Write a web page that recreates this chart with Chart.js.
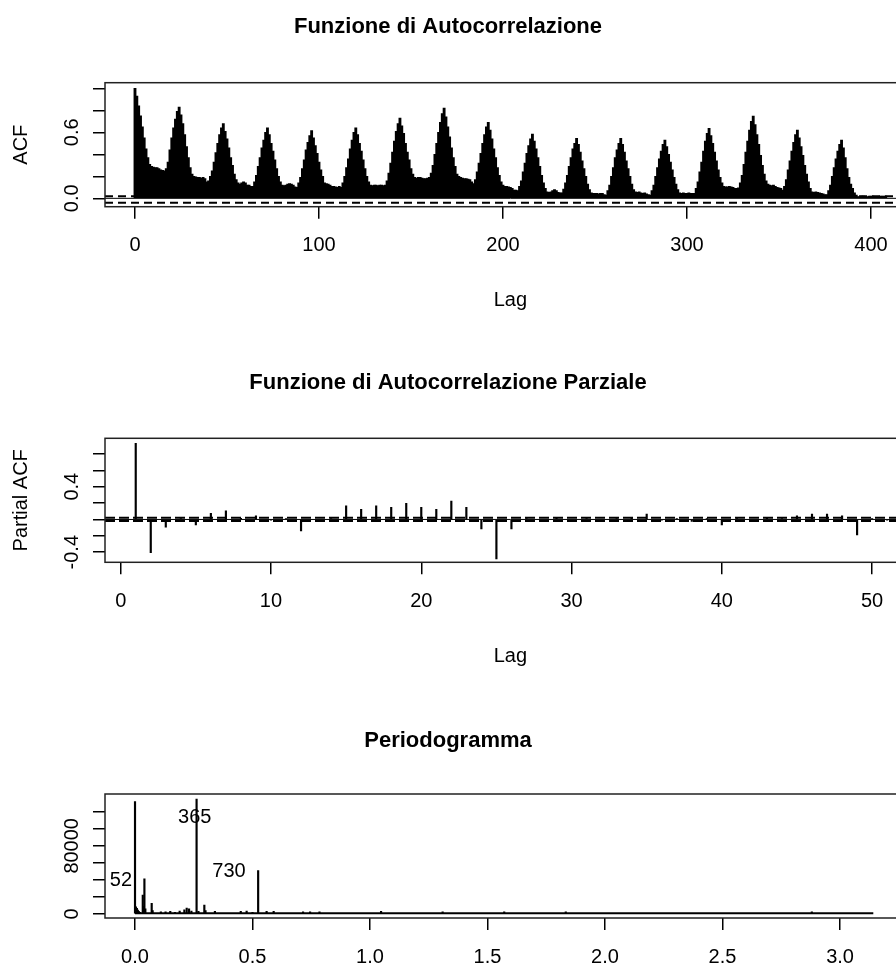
<!DOCTYPE html>
<html lang="it">
<head>
<meta charset="UTF-8">
<title>Funzione di Autocorrelazione</title>
<script src="https://cdn.jsdelivr.net/npm/chart.js"></script>
<style>
  html, body { margin: 0; padding: 0; background: #fff; }
  #page { position: relative; width: 896px; height: 972px; overflow: hidden; }
  canvas { position: absolute; left: 0; }
</style>
</head>
<body>
<div id="page">
  <canvas id="acfChart" width="940" height="320" style="top:0px"></canvas>
  <canvas id="pacfChart" width="940" height="350" style="top:320px"></canvas>
  <canvas id="specChart" width="940" height="302" style="top:670px"></canvas>
</div>
<script>
// ---- ACF, lag 0..408 (one row = one 24-lag cycle)
const ACF_VALUES = [
  1.00, 0.93, 0.84, 0.75, 0.65, 0.55, 0.45, 0.37, 0.31, 0.29, 0.285, 0.28, 0.28, 0.27, 0.26, 0.255, 0.25, 0.27, 0.33, 0.44, 0.55, 0.64, 0.72, 0.79,
  0.83, 0.76, 0.68, 0.58, 0.47, 0.37, 0.28, 0.22, 0.20, 0.195, 0.19, 0.19, 0.185, 0.19, 0.18, 0.15, 0.16, 0.20, 0.25, 0.33, 0.415, 0.50, 0.58, 0.64,
  0.68, 0.61, 0.54, 0.46, 0.37, 0.30, 0.22, 0.17, 0.14, 0.13, 0.14, 0.15, 0.14, 0.12, 0.12, 0.11, 0.11, 0.15, 0.21, 0.29, 0.37, 0.46, 0.53, 0.60,
  0.64, 0.58, 0.50, 0.43, 0.35, 0.27, 0.20, 0.15, 0.12, 0.115, 0.12, 0.13, 0.135, 0.13, 0.12, 0.105, 0.10, 0.14, 0.19, 0.27, 0.35, 0.44, 0.51, 0.57,
  0.615, 0.55, 0.48, 0.41, 0.33, 0.26, 0.20, 0.14, 0.135, 0.13, 0.12, 0.11, 0.11, 0.105, 0.10, 0.11, 0.10, 0.14, 0.20, 0.28, 0.36, 0.45, 0.53, 0.60,
  0.64, 0.58, 0.50, 0.43, 0.35, 0.27, 0.20, 0.15, 0.12, 0.115, 0.12, 0.12, 0.115, 0.12, 0.12, 0.115, 0.12, 0.16, 0.23, 0.32, 0.42, 0.52, 0.61, 0.68,
  0.73, 0.66, 0.59, 0.50, 0.42, 0.35, 0.27, 0.22, 0.19, 0.185, 0.19, 0.19, 0.185, 0.18, 0.18, 0.185, 0.19, 0.23, 0.30, 0.40, 0.50, 0.60, 0.69, 0.77,
  0.82, 0.74, 0.65, 0.56, 0.46, 0.37, 0.29, 0.22, 0.20, 0.19, 0.185, 0.18, 0.18, 0.175, 0.17, 0.15, 0.135, 0.17, 0.24, 0.32, 0.41, 0.50, 0.58, 0.65,
  0.69, 0.62, 0.54, 0.45, 0.37, 0.28, 0.21, 0.15, 0.12, 0.11, 0.11, 0.105, 0.10, 0.09, 0.075, 0.075, 0.07, 0.11, 0.16, 0.24, 0.32, 0.41, 0.48, 0.54,
  0.585, 0.52, 0.45, 0.37, 0.29, 0.21, 0.14, 0.09, 0.06, 0.055, 0.06, 0.07, 0.08, 0.07, 0.055, 0.05, 0.05, 0.085, 0.14, 0.21, 0.29, 0.37, 0.45, 0.50,
  0.545, 0.49, 0.42, 0.34, 0.27, 0.20, 0.13, 0.08, 0.05, 0.045, 0.045, 0.045, 0.04, 0.045, 0.045, 0.035, 0.03, 0.07, 0.12, 0.20, 0.28, 0.37, 0.44, 0.50,
  0.545, 0.49, 0.42, 0.34, 0.27, 0.20, 0.13, 0.08, 0.06, 0.055, 0.06, 0.05, 0.045, 0.05, 0.04, 0.035, 0.03, 0.07, 0.12, 0.20, 0.28, 0.36, 0.43, 0.49,
  0.53, 0.47, 0.40, 0.33, 0.26, 0.19, 0.13, 0.08, 0.05, 0.045, 0.05, 0.045, 0.045, 0.05, 0.045, 0.045, 0.045, 0.09, 0.15, 0.24, 0.33, 0.43, 0.52, 0.59,
  0.636, 0.57, 0.50, 0.42, 0.34, 0.26, 0.19, 0.14, 0.11, 0.105, 0.105, 0.11, 0.105, 0.10, 0.09, 0.09, 0.095, 0.14, 0.21, 0.31, 0.42, 0.52, 0.62, 0.70,
  0.748, 0.67, 0.58, 0.49, 0.39, 0.30, 0.22, 0.16, 0.13, 0.12, 0.115, 0.12, 0.11, 0.10, 0.095, 0.09, 0.075, 0.11, 0.17, 0.26, 0.34, 0.43, 0.51, 0.58,
  0.62, 0.55, 0.47, 0.39, 0.30, 0.22, 0.15, 0.09, 0.06, 0.055, 0.06, 0.055, 0.05, 0.045, 0.04, 0.035, 0.035, 0.07, 0.12, 0.20, 0.28, 0.36, 0.43, 0.49,
  0.53, 0.46, 0.37, 0.27, 0.19, 0.13, 0.09, 0.05, 0.03, 0.015, 0.015, 0.02, 0.02, 0.015, 0.015, 0.02, 0.02, 0.02, 0.015, 0.01, 0.015, 0.02, 0.02, 0.02, 0.02
];
const ACF_CI = [0.02, -0.04];
const ACF_X_TICKS = [0, 100, 200, 300, 400];
const ACF_X_LABELS = ['0', '100', '200', '300', '400'];
const ACF_Y_TICKS = [0, 0.2, 0.4, 0.6, 0.8, 1.0];
const ACF_Y_LABELS = ['0.0', '', '', '0.6', '', ''];

// ---- PACF, lag 1..52
const PACF_VALUES = [
  0.93, -0.405, -0.095, 0.01, -0.067, 0.076, 0.104, 0.015, 0.043, -0.01,
  0.01, -0.14, -0.01, 0.01, 0.168, 0.125, 0.168, 0.149, 0.198, 0.149,
  0.125, 0.226, 0.149, -0.116, -0.482, -0.116, 0.01, -0.01, 0.015, -0.01,
  0.01, -0.015, 0.01, 0.015, 0.067, -0.01, 0.01, -0.025, 0.01, -0.067,
  0.01, -0.01, 0.015, 0.01, 0.043, 0.067, 0.067, 0.043, -0.19, 0.01,
  -0.01, 0.01
];
const PACF_CI = [0.02, -0.02];
const PACF_X_TICKS = [0, 10, 20, 30, 40, 50];
const PACF_X_LABELS = ['0', '10', '20', '30', '40', '50'];
const PACF_Y_TICKS = [-0.4, -0.2, 0, 0.2, 0.4, 0.6, 0.8];
const PACF_Y_LABELS = ['-0.4', '', '', '', '0.4', '', ''];

// ---- Periodogramma
const SPEC_FREQ = [0.000, 0.004, 0.008, 0.012, 0.016, 0.021, 0.033, 0.037, 0.040, 0.044,
  0.071, 0.075, 0.110, 0.130, 0.150, 0.170, 0.190, 0.210, 0.220, 0.230,
  0.240, 0.262, 0.270, 0.295, 0.300, 0.340, 0.450, 0.475, 0.500, 0.524,
  0.560, 0.590, 0.715, 0.745, 0.785, 1.047, 1.309, 1.571, 1.833, 2.880];
const SPEC_POWER = [132000, 8500, 6500, 4500, 3000, 2000, 22300, 9000, 41200, 6000,
  12500, 4000, 2500, 2500, 3000, 2000, 3500, 5000, 7000, 6000,
  3500, 134900, 3000, 10600, 4000, 3000, 3000, 3500, 2000, 50900,
  3000, 3000, 2500, 2500, 2500, 3000, 2500, 2500, 2500, 2500];
const SPEC_FLOOR = 1000;
const SPEC_FREQ_MAX = 3.1416;
const SPEC_LABELS = ['52', '365', '730'];
const SPEC_LABEL_FREQ = [-0.06, 0.254, 0.40];
const SPEC_LABEL_POWER = [39900, 113000, 49600];
const SPEC_X_TICKS = [0, 0.5, 1, 1.5, 2, 2.5, 3];
const SPEC_X_LABELS = ['0.0', '0.5', '1.0', '1.5', '2.0', '2.5', '3.0'];
const SPEC_Y_TICKS = [0, 20000, 40000, 60000, 80000, 100000, 120000];
const SPEC_Y_LABELS = ['0', '', '', '', '80000', '', ''];

const FONT = '"Liberation Sans", Arial, sans-serif';
Chart.defaults.font.family = FONT;
Chart.defaults.font.size = 20;
Chart.defaults.color = '#000';

const CANVAS_W = 940;
const PLOT_RIGHT = 915.7;

// box around the plot + main title
const framePlugin = {
    id: 'frame',
    afterDraw(chart, args, opts) {
        const { ctx, chartArea: a } = chart;
        ctx.save();
        ctx.strokeStyle = '#222';
        ctx.lineWidth = 1.5;
        ctx.strokeRect(a.left, a.top, a.right - a.left, a.bottom - a.top);
        ctx.fillStyle = '#000';
        ctx.font = 'bold 22px ' + FONT;
        ctx.textAlign = 'center';
        ctx.textBaseline = 'middle';
        ctx.fillText(opts.title, 448, opts.titleY);
        ctx.restore();
    }
};

// text next to the periodogram peaks
const peakLabelPlugin = {
    id: 'peakLabels',
    afterDatasetsDraw(chart, args, opts) {
        if (!opts.text) return;
        const { ctx, scales } = chart;
        ctx.save();
        ctx.fillStyle = '#000';
        ctx.font = '20px ' + FONT;
        ctx.textAlign = 'center';
        ctx.textBaseline = 'middle';
        opts.text.forEach((t, i) => {
            ctx.fillText(t, scales.x.getPixelForValue(opts.xs[i]), scales.y.getPixelForValue(opts.ys[i]));
        });
        ctx.restore();
    }
};

function hline(y, x0, x1, dash, width) {
    return {
        type: 'line',
        data: [{ x: x0, y: y }, { x: x1, y: y }],
        borderColor: '#000',
        borderWidth: width,
        borderDash: dash,
        pointRadius: 0,
        fill: false
    };
}

function spikes(xs, ys, thickness) {
    return {
        type: 'bar',
        data: ys.map((v, i) => ({ x: xs[i], y: v })),
        backgroundColor: '#000',
        borderWidth: 0,
        barThickness: thickness,
        grouped: false
    };
}

function xAxis(min, max, ticks, labels, height, title, titlePad) {
    return {
        type: 'linear', min: min, max: max, offset: false,
        afterBuildTicks: s => { s.ticks = ticks.map(v => ({ value: v })); },
        afterFit: s => { s.height = height; },
        grid: { drawOnChartArea: false, drawTicks: true, tickLength: 12, color: '#000', lineWidth: 1.5, offset: false },
        border: { display: false },
        ticks: { padding: 15, autoSkip: false, maxRotation: 0, callback: (v, i) => labels[i] },
        title: { display: !!title, text: title, padding: { top: 0, bottom: titlePad } }
    };
}

function yAxis(min, max, ticks, labels, pad, title) {
    return {
        type: 'linear', min: min, max: max,
        afterBuildTicks: s => { s.ticks = ticks.map(v => ({ value: v })); },
        afterFit: s => { s.width = 105; },
        grid: { drawOnChartArea: false, drawTicks: true, tickLength: 12, color: '#000', lineWidth: 1.5 },
        border: { display: false },
        ticks: { padding: pad, autoSkip: false, minRotation: 90, maxRotation: 90, crossAlign: 'center', callback: (v, i) => labels[i] },
        title: { display: !!title, text: title, padding: { top: 9, bottom: 0 } }
    };
}

function panel(id, cfg) {
    new Chart(document.getElementById(id), {
        type: 'bar',
        data: { datasets: cfg.datasets },
        options: {
            responsive: false,
            animation: false,
            devicePixelRatio: 1,
            events: [],
            layout: { padding: { left: 0, right: CANVAS_W - PLOT_RIGHT, top: cfg.top, bottom: 0 } },
            scales: { x: cfg.x, y: cfg.y },
            plugins: {
                legend: { display: false },
                tooltip: { enabled: false },
                frame: { title: cfg.title, titleY: cfg.titleY },
                peakLabels: cfg.labels || {}
            }
        },
        plugins: [framePlugin, peakLabelPlugin]
    });
}

// Funzione di Autocorrelazione
const acfLags = ACF_VALUES.map((v, i) => i);
panel('acfChart', {
    title: 'Funzione di Autocorrelazione', titleY: 27, top: 82.7,
    x: xAxis(-16.3, 424.3, ACF_X_TICKS, ACF_X_LABELS, 320 - 206.7, 'Lag', 8),
    y: yAxis(-0.076, 1.051, ACF_Y_TICKS, ACF_Y_LABELS, 6.6, 'ACF'),
    datasets: [
        hline(0, -16.3, 424.3, [], 1),
        hline(ACF_CI[0], -16.3, 424.3, [8, 5], 2),
        hline(ACF_CI[1], -16.3, 424.3, [8, 5], 2),
        spikes(acfLags, ACF_VALUES, 2.2)
    ]
});

// Funzione di Autocorrelazione Parziale
const pacfLags = PACF_VALUES.map((v, i) => i + 1);
panel('pacfChart', {
    title: 'Funzione di Autocorrelazione Parziale', titleY: 63, top: 118.3,
    x: xAxis(-1.045, 52.9, PACF_X_TICKS, PACF_X_LABELS, 350 - 242.3, 'Lag', 2),
    y: yAxis(-0.523, 0.991, PACF_Y_TICKS, PACF_Y_LABELS, 3.3, 'Partial ACF'),
    datasets: [
        hline(0, -1.045, 52.9, [], 1),
        hline(PACF_CI[0], -1.045, 52.9, [10, 4], 2),
        hline(PACF_CI[1], -1.045, 52.9, [10, 4], 2),
        spikes(pacfLags, PACF_VALUES, 1.5)
    ]
});

// Periodogramma
panel('specChart', {
    title: 'Periodogramma', titleY: 71, top: 124,
    x: xAxis(-0.1277, 3.322, SPEC_X_TICKS, SPEC_X_LABELS, 302 - 248, '', 0),
    y: yAxis(-4700, 140800, SPEC_Y_TICKS, SPEC_Y_LABELS, -7.3, ''),
    datasets: [
        hline(SPEC_FLOOR, 0, SPEC_FREQ_MAX, [], 2),
        spikes(SPEC_FREQ, SPEC_POWER, 1.5)
    ],
    labels: { text: SPEC_LABELS, xs: SPEC_LABEL_FREQ, ys: SPEC_LABEL_POWER }
});
</script>
</body>
</html>
